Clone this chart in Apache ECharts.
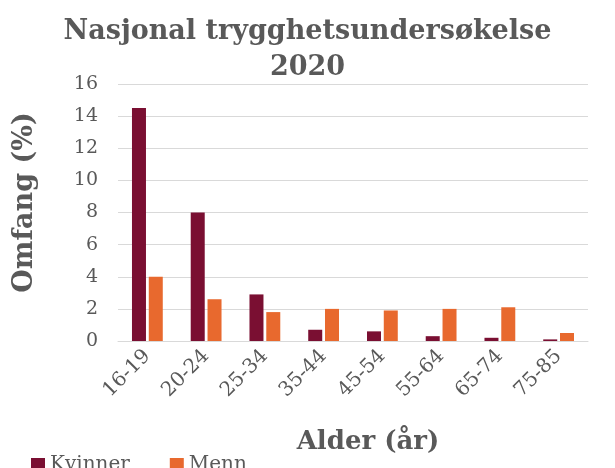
<!DOCTYPE html>
<html>
<head>
<meta charset="utf-8">
<script src="https://cdn.jsdelivr.net/npm/echarts@6/dist/echarts.min.js"></script>
<style>
  html, body { margin: 0; padding: 0; background: #fff; }
  #chart { width: 615px; height: 468px; }
</style>
</head>
<body>
<div id="chart"></div>
<script>
// alder-grupper og omfang i prosent
const categories = ['16-19', '20-24', '25-34', '35-44', '45-54', '55-64', '65-74', '75-85']
const kvinner = [14.5, 8.0, 2.9, 0.7, 0.6, 0.3, 0.2, 0.1]
const menn = [4.0, 2.6, 1.8, 2.0, 1.9, 2.0, 2.1, 0.5]
const yTicks = [0, 2, 4, 6, 8, 10, 12, 14, 16]

const serif = 'DejaVu Serif'
const grey = '#595959'

const chart = echarts.init(document.getElementById('chart'))
const options = {
  animation: false,
  color: ['#7a0f32', '#e8692e'],
  title: {
    text: 'Nasjonal trygghetsundersøkelse\n2020',
    left: 'center',
    top: 9,
    textStyle: {
      fontFamily: serif,
      fontWeight: 'bold',
      fontSize: 27,
      lineHeight: 36,
      color: grey
    }
  },
  legend: {
    left: 26,
    top: 450,
    itemWidth: 14,
    itemHeight: 14,
    itemGap: 40,
    icon: 'rect',
    textStyle: { fontFamily: serif, fontSize: 20, color: grey },
    data: ['Kvinner', 'Menn']
  },
  grid: {
    left: 118,
    right: 27,
    top: 84,
    bottom: 127
  },
  xAxis: {
    type: 'category',
    data: categories,
    name: 'Alder (år)',
    nameLocation: 'middle',
    nameGap: 88,
    nameTextStyle: { fontFamily: serif, fontWeight: 'bold', fontSize: 26, color: grey, padding: [0, 0, 0, 30] },
    axisLine: { lineStyle: { color: '#d9d9d9', width: 1 } },
    axisTick: { show: false },
    axisLabel: {
      rotate: 45,
      margin: 12,
      fontFamily: serif,
      fontSize: 20,
      color: grey
    }
  },
  yAxis: {
    type: 'value',
    min: 0,
    max: yTicks[yTicks.length - 1],
    interval: yTicks[1] - yTicks[0],
    name: 'Omfang (%)',
    nameLocation: 'middle',
    nameGap: 80,
    nameTextStyle: { fontFamily: serif, fontWeight: 'bold', fontSize: 27, color: grey, padding: [0, 0, 0, 20] },
    axisLabel: { fontFamily: serif, fontSize: 19, color: grey, margin: 20 },
    splitLine: { lineStyle: { color: '#d9d9d9', width: 1 } }
  },
  series: [
    { name: 'Kvinner', type: 'bar', data: kvinner, barWidth: 14, barGap: '20%' },
    { name: 'Menn', type: 'bar', data: menn, barWidth: 14, barGap: '20%' }
  ]
}
chart.setOption(options)
</script>
</body>
</html>
